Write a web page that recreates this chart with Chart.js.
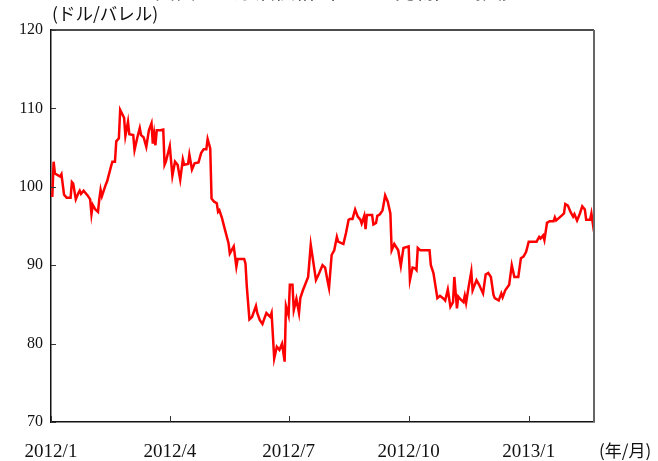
<!DOCTYPE html>
<html>
<head>
<meta charset="utf-8">
<script src="https://cdn.jsdelivr.net/npm/chart.js@4"></script>
<style>
html,body{margin:0;padding:0;background:#fff;}
canvas{display:block;}
</style>
</head>
<body>
<canvas id="c" width="658" height="461"></canvas>
<script>
// Days counted from 2012-01-01 (day 0)
const days = [1,2,3,7,8,10,12,15,16,17,19,21,22,23,25,28,30,31,32,34,36,37,38,39,42,43,46,47,49,50,52,53,56,57,59,60,63,64,66,68,69,71,73,75,77,78,79,80,81,83,86,87,88,91,93,95,97,99,101,102,105,106,108,110,113,115,117,119,120,122,123,125,127,128,129,131,133,136,137,138,140,142,143,148,149,150,152,154,157,158,160,162,163,165,168,169,171,173,175,177,179,180,182,183,185,186,188,190,191,193,197,199,203,205,208,210,212,213,215,217,219,220,224,226,228,229,231,233,235,237,238,240,241,242,246,247,249,250,252,254,256,258,260,261,263,266,268,270,274,275,277,279,280,281,283,286,290,291,293,296,298,301,302,304,306,308,309,311,312,314,316,317,318,320,322,323,326,328,331,333,335,337,339,340,343,345,346,348,351,353,355,358,360,362,364,366,369,372,374,375,377,378,380,382,385,386,387,389,391,393,394,396,398,400,401,403,405,407,409,410,413,414,416];
// WTI price (USD/bbl)
const prices = [98.7,103.2,101.7,101.3,101.6,99.0,98.6,98.6,100.6,100.4,98.4,99.2,99.5,99.1,99.5,98.9,98.4,96.5,97.7,97.1,96.8,98.4,99.6,98.8,100.3,100.7,102.6,103.2,103.2,105.8,106.2,109.8,108.8,106.5,108.3,106.7,106.6,104.7,106.2,107.5,106.6,106.3,105.1,107.2,108.1,105.5,106.8,105.3,107.2,107.2,107.3,102.8,103.2,105.2,101.4,103.2,102.8,100.9,103.5,102.8,102.9,104.1,102.2,103.0,103.1,104.3,104.8,104.8,106.1,104.9,98.5,98.1,97.9,96.8,97.0,96.0,94.7,92.8,91.5,91.8,92.4,89.8,90.8,90.8,90.2,87.3,83.1,83.4,84.8,83.9,83.0,82.5,83.0,83.9,83.4,83.9,78.1,79.6,79.2,80.0,77.7,84.8,83.6,87.5,87.5,84.3,85.7,83.9,85.8,86.8,88.5,92.6,88.1,88.8,90.0,89.7,87.9,87.1,91.3,91.9,93.6,93.0,92.7,94.1,95.8,95.9,95.9,97.1,96.2,95.8,95.3,96.3,94.6,96.4,96.4,95.2,95.4,96.3,96.5,97.0,98.9,98.1,96.6,91.9,92.7,91.9,89.9,92.2,92.4,88.1,89.7,89.6,89.4,92.2,91.9,91.9,91.9,90.0,89.0,85.8,86.1,85.7,85.5,86.9,84.7,85.3,88.5,84.5,86.0,85.6,85.3,86.1,85.2,87.3,89.2,86.8,88.1,87.5,86.4,88.8,89.0,88.5,86.2,85.8,85.5,86.4,85.9,86.8,87.5,90.0,88.5,88.5,90.9,91.1,91.7,93.0,93.0,93.0,93.6,93.4,93.8,93.2,95.4,95.6,95.6,96.1,95.7,96.0,96.3,96.6,97.8,97.6,96.8,96.2,96.5,95.7,96.5,97.5,97.1,95.8,95.8,96.6,94.3];

const xTickDays = [0,91,182,274,366];
const xTickLabels = ['2012/1','2012/4','2012/7','2012/10','2013/1'];
const yTickValues = [70,80,90,100,110,120];
const titleText = '図表１　原油価格（ＷＴＩ先物）の推移';
const yUnit = '(ドル/バレル)';
const xUnit = '(年/月)';

const SERIF = '"Liberation Serif","DejaVu Serif",serif';
const JP = '"Noto Sans CJK JP","Noto Sans CJK SC",sans-serif';

const framePlugin = {
  id: 'frame',
  afterDraw(chart) {
    const ctx = chart.ctx;
    const a = chart.chartArea;
    const xs = chart.scales.x, ys = chart.scales.y;
    ctx.save();
    ctx.lineWidth = 1.5;
    ctx.strokeStyle = '#111';
    ctx.beginPath();
    ctx.moveTo(a.left, a.top); ctx.lineTo(a.right, a.top);
    ctx.stroke();
    ctx.strokeStyle = '#666';
    ctx.lineWidth = 2;
    ctx.beginPath();
    ctx.moveTo(a.right, a.top); ctx.lineTo(a.right, a.bottom);
    ctx.stroke();
    ctx.strokeStyle = '#333';
    ctx.lineWidth = 1;
    yTickValues.forEach(v => {
      const y = Math.round(ys.getPixelForValue(v)) + 0.5;
      ctx.beginPath(); ctx.moveTo(a.left, y); ctx.lineTo(a.left + 5, y); ctx.stroke();
    });
    xTickDays.forEach(d => {
      const x = Math.round(xs.getPixelForValue(d)) + 0.5;
      ctx.beginPath(); ctx.moveTo(x, a.bottom); ctx.lineTo(x, a.bottom - 6); ctx.stroke();
    });
    ctx.fillStyle = '#111';
    ctx.font = '17.5px ' + JP;
    ctx.textAlign = 'left';
    ctx.textBaseline = 'alphabetic';
    ctx.fillText(yUnit, a.left + 1, 20);
    ctx.font = '17px ' + JP;
    ctx.fillText(xUnit, 599, 457);
    ctx.font = '20px ' + JP;
    ctx.textAlign = 'center';
    ctx.fillText(titleText, 335, -1);
    ctx.restore();
  }
};

new Chart(document.getElementById('c'), {
  type: 'line',
  data: {
    datasets: [{
      data: days.map((d, i) => ({x: d, y: prices[i]})),
      borderColor: '#ff0000',
      borderWidth: 2.5,
      pointRadius: 0,
      tension: 0,
      fill: false
    }]
  },
  options: {
    responsive: false,
    animation: false,
    devicePixelRatio: 1,
    layout: {padding: {left: 0, right: 64, top: 30, bottom: 0}},
    plugins: {legend: {display: false}, tooltip: {enabled: false}},
    scales: {
      x: {
        type: 'linear',
        min: 0,
        max: 416,
        afterBuildTicks(scale) { scale.ticks = xTickDays.map(v => ({value: v})); },
        afterFit(scale) { scale.height = 39; },
        ticks: {
          autoSkip: false,
          maxRotation: 0,
          padding: 19,
          color: '#111',
          font: {family: SERIF, size: 19},
          callback(v) { const i = xTickDays.indexOf(v); return i >= 0 ? xTickLabels[i] : ''; }
        },
        grid: {display: false, drawTicks: false},
        border: {display: true, color: '#111', width: 1.5}
      },
      y: {
        type: 'linear',
        min: 70,
        max: 120,
        afterBuildTicks(scale) { scale.ticks = yTickValues.map(v => ({value: v})); },
        afterFit(scale) { scale.width = 51; },
        ticks: {
          padding: 8,
          color: '#111',
          font: {family: SERIF, size: 16}
        },
        grid: {display: false, drawTicks: false},
        border: {display: true, color: '#111', width: 1.5}
      }
    }
  },
  plugins: [framePlugin]
});
</script>
</body>
</html>
